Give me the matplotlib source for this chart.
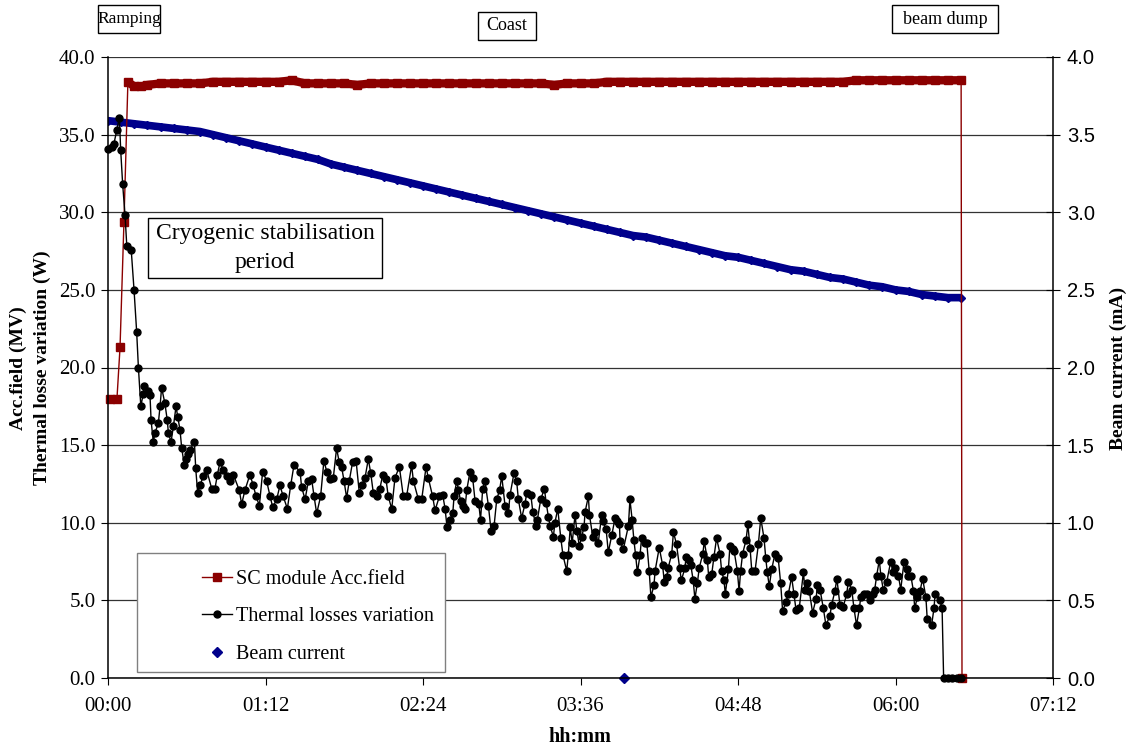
import matplotlib
matplotlib.use("Agg")
import matplotlib.pyplot as plt
from matplotlib.patches import Rectangle
from matplotlib.lines import Line2D
from matplotlib.ticker import FuncFormatter, MultipleLocator

# time in minutes from start
field_t = [0.9, 4.1, 5.5, 7.3, 9.1, 12, 15, 18, 24, 30, 36, 42, 48, 54, 60, 66, 72, 78, 84, 90,
           96, 102, 108, 114, 120, 126, 132, 138, 144, 150, 156, 162, 168, 174, 180, 186, 192,
           198, 204, 210, 216, 222, 228, 234, 240, 246, 252, 258, 264, 270, 276, 282, 288, 294,
           300, 306, 312, 318, 324, 330, 336, 342, 348, 354, 360, 366, 372, 378, 384, 390, 390.4]
field_v = [18.0, 18.0, 21.3, 29.4, 38.4, 38.1, 38.1, 38.2, 38.3, 38.3, 38.3, 38.3, 38.4, 38.4,
           38.4, 38.4, 38.4, 38.4, 38.5, 38.3, 38.3, 38.3, 38.3, 38.2, 38.3, 38.3, 38.3, 38.3,
           38.3, 38.3, 38.3, 38.3, 38.3, 38.3, 38.3, 38.3, 38.3, 38.3, 38.2, 38.3, 38.3, 38.3,
           38.4, 38.4, 38.4, 38.4, 38.4, 38.4, 38.4, 38.4, 38.4, 38.4, 38.4, 38.4, 38.4, 38.4,
           38.4, 38.4, 38.4, 38.4, 38.4, 38.5, 38.5, 38.5, 38.5, 38.5, 38.5, 38.5, 38.5, 38.5, 0.0]

loss_t = [0, 1.7, 2.7, 4.0, 5.2, 5.8, 6.7, 7.8, 8.6, 10.6, 11.9, 13.1, 13.9,
          15.0, 16.1, 16.6, 18.1, 19.2, 19.7, 20.7, 21.5, 23.0, 23.8, 24.5, 26.0, 27.1, 27.6,
          28.8, 29.9, 31.1, 31.9, 32.9, 33.7, 34.9, 35.7, 36.7, 37.5, 39.5, 40.1, 41.0, 42.0,
          43.6, 45.1, 47.4, 48.9, 50.0, 51.2,
          52.7, 54.2, 55.8, 57.3, 60.0, 61.1, 62.6, 64.9, 66.4, 67.7, 69.2, 70.7, 72.5, 74.1,
          75.3, 77.1, 78.6, 80.1, 82.0, 83.5, 85.0, 87.8, 88.5, 90.1, 91.6, 93.1, 94.2, 95.4,
          97.2, 98.7, 100.0, 101.5, 103.0, 104.5, 105.7, 106.8, 107.9, 109.1, 110.3, 111.8,
          113.4, 114.9, 116.0, 117.5, 119.0, 120.1, 121.3, 122.8, 124.3, 125.6, 127.1, 128.1,
          129.7, 131.2, 133.2, 135.0, 136.5, 138.8, 139.6, 141.9, 143.4, 145.4, 146.4,
          148.4, 149.5, 151.5, 153.0, 154.1, 155.0, 156.3, 157.6, 158.2, 159.4, 160.2, 161.2,
          162.4, 163.2, 164.0, 165.5, 166.7, 167.8, 169.5, 170.3, 171.3, 172.3, 173.9, 175.1,
          176.5, 177.7, 179.0, 180.0, 181.5, 183.0, 183.8, 185.6, 186.8, 187.6, 189.1, 190.6,
          191.4, 193.3, 194.2, 195.7, 196.3, 197.8, 199.5, 200.3, 201.3, 202.1, 203.6, 204.3,
          205.6, 207.0, 208.0, 209.7, 210.4, 211.3, 212.2, 213.5, 214.3, 215.5, 216.5, 217.6,
          218.1, 219.6, 220.1, 221.6, 222.6, 224.1, 225.7, 226.1, 227.7, 228.7, 230.3, 231.8,
          232.6, 233.8, 234.1, 235.6, 237.9, 238.6, 239.6, 240.4, 241.2, 242.0, 243.2, 243.9,
          245.5, 246.3, 247.4, 248.2, 249.6, 250.1, 252.0,
          253.5, 254.3, 255.4, 256.1, 257.7, 258.5, 259.9, 261.3, 262.1, 263.8, 264.2, 265.7,
          266.4, 267.5, 268.3, 269.4, 270.3, 271.9, 272.6, 274.0, 274.6, 276.0, 277.0, 278.2,
          279.8, 280.5, 281.6, 282.2, 283.6, 284.3, 285.6, 286.2, 287.7, 288.5, 289.2, 290.1,
          291.7, 292.5, 293.5, 294.3, 295.8, 297.3, 298.4, 299.9, 300.7, 301.4, 302.3, 303.4,
          304.9, 306.4, 307.5, 308.4, 309.9, 311.0, 312.5, 313.6, 314.5, 316.0, 317.9, 318.6,
          319.7, 320.6, 322.1, 323.7, 324.3, 325.5, 327.0, 328.2, 330.0, 330.8, 332.3, 333.2,
          334.6, 336.1, 337.7, 338.4, 340.0, 341.0, 342.2, 343.5, 344.1, 345.6, 347.1, 348.3,
          349.9, 350.5, 351.4, 352.6, 353.3, 354.4, 356.0, 357.8, 359.0, 359.8, 361.3, 362.4,
          363.9, 365.1, 365.9, 367.0, 368.2, 368.8, 370.0, 371.2, 372.4, 373.9, 374.5, 376.5,
          377.6, 378.1, 380.3, 381.3, 382.0, 384.0, 386.0, 388.0, 390.0]
loss_v = [34.1, 34.2, 34.4, 35.3, 36.1, 34.0, 31.8, 29.8, 27.8, 27.6, 25.0, 22.3, 20.0,
          17.5, 18.3, 18.8, 18.5, 18.2, 16.6, 15.2, 15.8, 16.4, 17.5, 18.7, 17.7, 16.6, 15.8,
          15.2, 16.2, 17.5, 16.8, 16.0, 14.8, 13.7, 14.1, 14.4, 14.7, 15.2, 13.5, 11.9, 12.4,
          13.0, 13.4, 12.2, 12.2, 13.1, 13.9,
          13.4, 13.0, 12.7, 13.1, 12.1, 11.2, 12.1, 13.1, 12.4, 11.7, 11.1, 13.3, 12.7, 11.7,
          11.0, 11.5, 12.4, 11.7, 10.9, 12.4, 13.7, 13.3, 12.3, 11.5, 12.7, 12.8, 11.7, 10.6,
          11.7, 14.0, 13.3, 12.8, 12.9, 14.8, 13.9, 13.6, 12.7, 11.6, 12.7, 13.9,
          14.0, 11.9, 12.4, 12.9, 14.1, 13.2, 11.9, 11.7, 12.2, 13.1, 12.8, 11.7,
          10.9, 12.9, 13.6, 11.7, 11.7, 13.7, 12.7, 11.5, 11.5, 13.6, 12.9,
          11.7, 10.8, 11.7, 11.8, 10.9, 9.7, 10.2, 10.6, 11.7, 12.7, 12.1, 11.4,
          11.1, 10.9, 12.1, 13.3, 12.9, 11.4, 11.2, 10.2, 12.2, 12.7, 11.1, 9.5,
          9.8, 11.5, 12.1, 13.0, 11.1, 10.6, 11.8, 13.2, 12.7, 11.5, 10.3, 11.2,
          11.9, 11.8, 10.7, 9.8, 10.2, 11.5, 12.2, 11.3, 10.4, 9.8, 9.1, 10.0,
          10.9, 9.0, 7.9, 6.9, 7.9, 9.7, 8.7, 10.5, 9.5, 8.5, 9.1, 9.7,
          10.7, 11.7, 10.5, 9.1, 9.4, 8.7, 10.5, 10.1, 9.6, 8.1, 9.2, 10.3,
          10.1, 9.9, 8.8, 8.3, 9.8, 11.5, 10.2, 8.9, 7.9, 6.8, 7.9, 9.0,
          8.7, 8.7, 6.9, 5.2, 6.0, 6.9, 8.4,
          7.3, 6.2, 6.5, 7.1, 8.0, 9.4, 8.6, 7.1, 6.3, 7.1, 7.8, 7.6,
          7.3, 6.3, 5.1, 6.1, 7.1, 8.0, 8.8, 7.6, 6.5, 6.7, 7.8, 9.0,
          8.0, 6.9, 6.3, 5.4, 7.0, 8.5, 8.3, 8.2, 6.9, 5.6, 6.9, 8.0,
          8.9, 9.9, 8.4, 6.9, 6.9, 8.6, 10.3, 9.0, 7.7, 6.8, 5.9, 7.0,
          8.0, 7.7, 6.1, 4.3, 4.9, 5.4, 6.5, 5.4, 4.4, 4.5, 6.8, 5.7,
          6.1, 5.6, 4.2, 5.1, 6.0, 5.7, 4.5, 3.4, 4.0, 4.7, 5.6, 6.4,
          4.7, 4.6, 5.4, 6.2, 5.7, 4.5, 3.4, 4.5, 5.2, 5.4, 5.4, 5.0,
          5.4, 5.7, 6.6, 7.6, 6.6, 5.7, 6.2, 7.5, 6.8, 7.1, 6.6, 5.7,
          7.5, 7.0, 6.6, 6.6, 5.6, 4.5, 5.2, 5.6, 6.4, 5.2, 3.8, 3.4,
          4.5, 5.4, 5.0, 4.5, 0.0, 0.0, 0.0, 0.0, 0.0]

beam_t = [0, 6, 12, 18, 24, 30, 36, 42, 48, 54, 60, 66, 72, 78, 84, 90, 96, 102, 108, 114,
          120, 126, 132, 138, 144, 150, 156, 162, 168, 174, 180, 186, 192, 198, 204, 210, 216,
          222, 228, 234, 240, 246, 252, 258, 264, 270, 276, 282, 288, 294, 300, 306, 312, 318,
          324, 330, 336, 342, 348, 354, 360, 366, 372, 378, 384, 390]
beam_v = [3.59, 3.58, 3.57, 3.56, 3.55, 3.54, 3.53, 3.52, 3.50, 3.48, 3.46, 3.44, 3.42, 3.40,
          3.38, 3.36, 3.34, 3.31, 3.29, 3.27, 3.25, 3.23, 3.21, 3.19, 3.17, 3.15, 3.13, 3.11,
          3.09, 3.07, 3.05, 3.03, 3.01, 2.99, 2.97, 2.95, 2.93, 2.91, 2.89, 2.87, 2.85, 2.84,
          2.82, 2.80, 2.78, 2.76, 2.74, 2.72, 2.71, 2.69, 2.67, 2.65, 2.63, 2.62, 2.60, 2.58,
          2.57, 2.55, 2.53, 2.52, 2.50, 2.49, 2.47, 2.46, 2.45, 2.45]
beam_off_t = [236]
beam_off_v = [0.0]

W, H = 1136, 751
SERIF = "Liberation Serif"
SANS = "Liberation Sans"
RED = "#8B0000"
BLUE = "#00008B"

fig = plt.figure(figsize=(W / 100, H / 100), dpi=100)
ax2 = fig.add_axes([108 / W, 1 - 678 / H, 945 / W, 621 / H])
ax = fig.add_axes(ax2.get_position(), sharex=ax2)
ax.set_zorder(2)
ax2.set_zorder(1)
ax.patch.set_visible(False)

# beam current (right axis)
ax2.plot(beam_t, beam_v, color=BLUE, lw=5.5, solid_capstyle="butt")
ax2.plot(beam_t, beam_v, ls="none", marker="D", ms=4, color=BLUE)
ax2.plot(beam_off_t, beam_off_v, ls="none", marker="D", ms=5, color=BLUE, clip_on=False)
ax2.set_ylim(0, 4)
ax2.yaxis.set_major_locator(MultipleLocator(0.5))
ax2.yaxis.set_major_formatter(FuncFormatter(lambda v, _: f"{v:.1f}"))
ax2.yaxis.tick_right()
ax2.yaxis.grid(True, color="#333333", lw=0.9)
ax2.set_axisbelow(True)
ax2.tick_params(axis="y", direction="inout", length=10, labelsize=14.5, pad=5)
for lab in ax2.get_yticklabels():
    lab.set_family(SANS)
for s in ["top", "left", "bottom"]:
    ax2.spines[s].set_visible(False)
ax2.tick_params(axis="x", bottom=False, labelbottom=False)

# acc field and thermal losses (left axis)
ax.plot(field_t[4:-1], field_v[4:-1], color=RED, lw=6, solid_capstyle="butt")
ax.plot(field_t, field_v, color=RED, lw=1, marker="s", ms=6, clip_on=False)
ax.plot(loss_t, loss_v, color="black", lw=1, marker="o", ms=5, clip_on=False)

ax.set_xlim(0, 432)
ax.set_ylim(0, 40)
ax.xaxis.set_major_locator(MultipleLocator(72))
ax.xaxis.set_major_formatter(FuncFormatter(lambda m, _: f"{int(m) // 60:02d}:{int(m) % 60:02d}"))
ax.yaxis.set_major_locator(MultipleLocator(5))
ax.yaxis.set_major_formatter(FuncFormatter(lambda v, _: f"{v:.1f}"))
ax.tick_params(axis="y", direction="out", length=5, labelsize=15, pad=4)
ax.tick_params(axis="x", direction="out", length=5, labelsize=15, pad=9)
for lab in ax.get_xticklabels() + ax.get_yticklabels():
    lab.set_family(SERIF)
ax.spines["top"].set_visible(False)
ax.spines["right"].set_visible(False)
for s in ["left", "bottom"]:
    ax.spines[s].set_linewidth(1.1)
ax2.spines["right"].set_linewidth(1.1)


def px(x, y):
    return x / W, 1 - y / H


def box(x0, y0, x1, y1, text, size, ec="black"):
    fx, fy = px(x0, y1)
    fig.patches.append(Rectangle((fx, fy), (x1 - x0) / W, (y1 - y0) / H,
                                 transform=fig.transFigure, fc="white", ec=ec,
                                 lw=1.0, zorder=5))
    if text:
        cx, cy = px((x0 + x1) / 2, (y0 + y1) / 2)
        fig.text(cx, cy, text, ha="center", va="center", family=SERIF,
                 fontsize=size, zorder=6, linespacing=1.55)


box(98, 5, 160, 33, "Ramping", 12.5)
box(478, 12, 536, 40, "Coast", 13)
box(892, 5, 998, 33, "beam dump", 13)
box(148, 218, 382, 278, "Cryogenic stabilisation\nperiod", 17)
box(137, 553, 445, 672, None, 14, ec="#808080")

handles = [
    Line2D([], [], color=RED, lw=1, marker="s", ms=6),
    Line2D([], [], color="black", lw=1, marker="o", ms=5),
    Line2D([], [], color=BLUE, ls="none", marker="D", ms=5),
]
labels = ["SC module Acc.field", "Thermal losses variation", "Beam current"]
leg = fig.legend(handles, labels, loc="upper left", bbox_to_anchor=px(192, 560),
                 frameon=False, prop={"family": SERIF, "size": 14.5},
                 handlelength=1.5, handletextpad=0.2, labelspacing=0.9, borderpad=0)
leg.set_zorder(7)

fig.text(*px(18, 368), "Acc.field (MV)", rotation=90, ha="center", va="center",
         family=SERIF, fontsize=14, fontweight="bold")
fig.text(*px(42, 368), "Thermal losse variation (W)", rotation=90, ha="center", va="center",
         family=SERIF, fontsize=14, fontweight="bold")
fig.text(*px(1118, 368), "Beam current (mA)", rotation=90, ha="center", va="center",
         family=SERIF, fontsize=14, fontweight="bold")
fig.text(*px(580, 737), "hh:mm", ha="center", va="center",
         family=SERIF, fontsize=14.5, fontweight="bold")

fig.savefig("out.png", dpi=100)
